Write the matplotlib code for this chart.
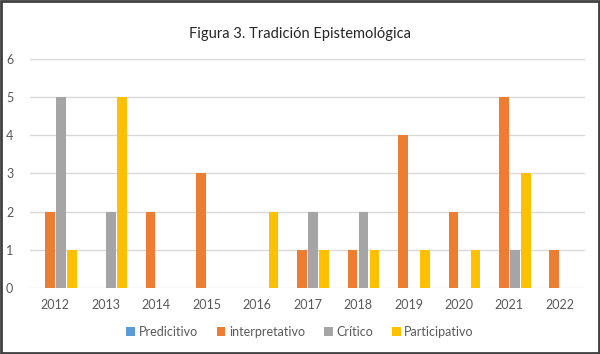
import matplotlib
matplotlib.use("Agg")
import matplotlib.pyplot as plt
import numpy as np
from matplotlib.patches import Rectangle

years = ["2012", "2013", "2014", "2015", "2016", "2017", "2018", "2019", "2020", "2021", "2022"]
predicitivo = [0, 0, 0, 0, 0, 0, 0, 0, 0, 0, 0]
interpretativo = [2, 0, 2, 3, 0, 1, 1, 4, 2, 5, 1]
critico = [5, 2, 0, 0, 0, 2, 2, 0, 0, 1, 0]
participativo = [1, 5, 0, 0, 2, 1, 1, 1, 1, 3, 0]

series = [("Predicitivo", predicitivo, "#5B9BD5"),
          ("interpretativo", interpretativo, "#ED7D31"),
          ("Crítico", critico, "#A5A5A5"),
          ("Participativo", participativo, "#FFC000")]

plt.rcParams['font.family'] = ['Lato', 'DejaVu Sans']

fig = plt.figure(figsize=(6, 3.54), dpi=100)
ax = fig.add_axes([0.05, 0.1864, 0.925, 0.647])

x = np.arange(len(years))
pitch = 0.218
width = 0.19
for i, (name, vals, col) in enumerate(series):
    ax.bar(x + (i - 1.5) * pitch, vals, width=width, color=col, label=name, zorder=3)

ax.set_xlim(-0.5, len(years) - 0.5)
ax.set_ylim(0, 6)
ax.set_yticks(range(0, 7))
ax.set_xticks(x)
ax.set_xticklabels(years)
ax.grid(axis='y', color='#D9D9D9', linewidth=1, zorder=0)
for s in ax.spines.values():
    s.set_visible(False)
ax.tick_params(axis='both', length=0, labelsize=9, labelcolor='#595959')
ax.tick_params(axis='x', pad=8)
ax.tick_params(axis='y', pad=12)

fig.text(0.5, 0.905, "Figura 3. Tradición Epistemológica", ha='center', va='center',
         fontsize=10.5, color='#262626')

leg = fig.legend(loc='center', bbox_to_anchor=(0.5, 0.063), ncol=4, frameon=False,
                 fontsize=9, handlelength=0.7, handleheight=0.7, handletextpad=0.3,
                 columnspacing=1.5)
for t in leg.get_texts():
    t.set_color('#595959')

fig.patches.append(Rectangle((0.002, 0.003), 0.996, 0.994, transform=fig.transFigure,
                             fill=False, edgecolor='#404040', linewidth=2))

fig.savefig("out.png", dpi=100, facecolor='white')
